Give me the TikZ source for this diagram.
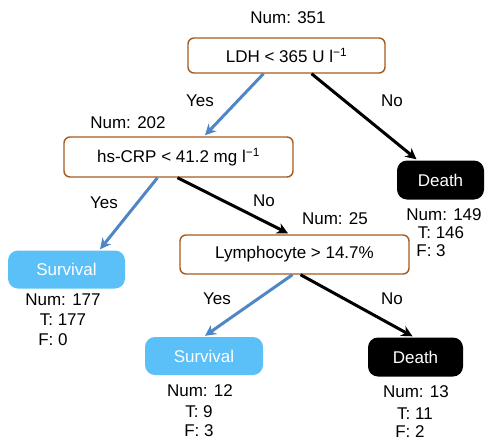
\documentclass[tikz,border=0pt]{standalone}
\usepackage{fontspec}
\setmainfont{Liberation Sans}
\usetikzlibrary{arrows.meta,calc}
\definecolor{brownb}{HTML}{A65A1E}
\definecolor{bluea}{HTML}{4F86C6}
\definecolor{survfill}{HTML}{5BC0F8}
\tikzset{
  txt/.style={font=\fontsize{17}{20}\selectfont},
  cond/.style={txt, draw=brownb, line width=1.4pt, rounded corners=6pt, fill=white, minimum height=#1, inner sep=0pt},
  surv/.style={txt, fill=survfill, rounded corners=10pt, text=white, minimum width=117pt, minimum height=38pt, inner sep=0pt},
  death/.style={txt, fill=black, rounded corners=10pt, text=white, minimum height=39pt, inner sep=0pt},
  lbl/.style={txt, inner sep=0pt},
  yesarr/.style={draw=bluea, line width=3pt, -{Stealth[length=11pt,width=11pt]}},
  noarr/.style={draw=black, line width=3pt, -{Stealth[length=11pt,width=11pt]}},
}
\newcommand{\minusone}{\textsuperscript{\char"2212 1}}
\begin{document}
\begin{tikzpicture}[x=1pt,y=-1pt]
\useasboundingbox (0,0) rectangle (487,442);
% condition boxes
\node[cond=35pt, minimum width=197pt] (ldh) at (286.5,55.5) {LDH < 365 U l\minusone};
\node[cond=40pt, minimum width=229pt] (crp) at (178.5,157) {hs-CRP < 41.2 mg l\minusone};
\node[cond=39pt, minimum width=229pt] (lym) at (294.5,254.5) {Lymphocyte > 14.7\%};
% leaves
\node[death, minimum width=87pt] (d1) at (440.5,180) {Death};
\node[surv] (s1) at (66.5,269.5) {Survival};
\node[surv, minimum width=118pt] (s2) at (204,356) {Survival};
\node[death, minimum width=95pt] (d2) at (415.5,357) {Death};
% counts
\node[lbl] (n351) at (288,18) {Num: 351};
\node[lbl] (n202) at (128,123) {Num: 202};
\node[lbl] (n25) at (335,219) {Num: 25};
\node[lbl] (n149) at (444,215) {Num: 149};
\node[lbl] (t149) at (441,233) {T: 146};
\node[lbl] (f149) at (431,251) {F: 3};
\node[lbl] (n177) at (63,300) {Num: 177};
\node[lbl] (t177) at (63,320) {T: 177};
\node[lbl] (f177) at (53,340) {F: 0};
\node[lbl] (n12) at (200,391) {Num: 12};
\node[lbl] (t12) at (199,412) {T: 9};
\node[lbl] (f12) at (199,431) {F: 3};
\node[lbl] (n13) at (416,392) {Num: 13};
\node[lbl] (t13) at (415,414) {T: 11};
\node[lbl] (f13) at (410,432) {F: 2};
% branch labels
\node[lbl] (y1) at (200,101) {Yes};
\node[lbl] (no1) at (392,101) {No};
\node[lbl] (y2) at (104,203) {Yes};
\node[lbl] (no2) at (264,201) {No};
\node[lbl] (y3) at (217,299) {Yes};
\node[lbl] (no3) at (392,299) {No};
% connectors
\draw[yesarr] ($(ldh.south)+(-23,0)$) -- ($(crp.north)+(26.5,-1)$);
\draw[noarr] ($(ldh.south)+(25,0)$) -- ($(d1.north)+(-24,-1)$);
\draw[yesarr] ($(crp.south)+(-21,0)$) -- ($(s1.north)+(33.5,-1)$);
\draw[noarr] ($(crp.south)+(-1,0)$) -- ($(lym.north)+(-6.5,-1)$);
\draw[yesarr] ($(lym.south)+(-2,0)$) -- ($(s2.north)+(1,-1)$);
\draw[noarr] ($(lym.south)+(6,0)$) -- ($(d2.north)+(-3,-1)$);
\end{tikzpicture}
\end{document}
